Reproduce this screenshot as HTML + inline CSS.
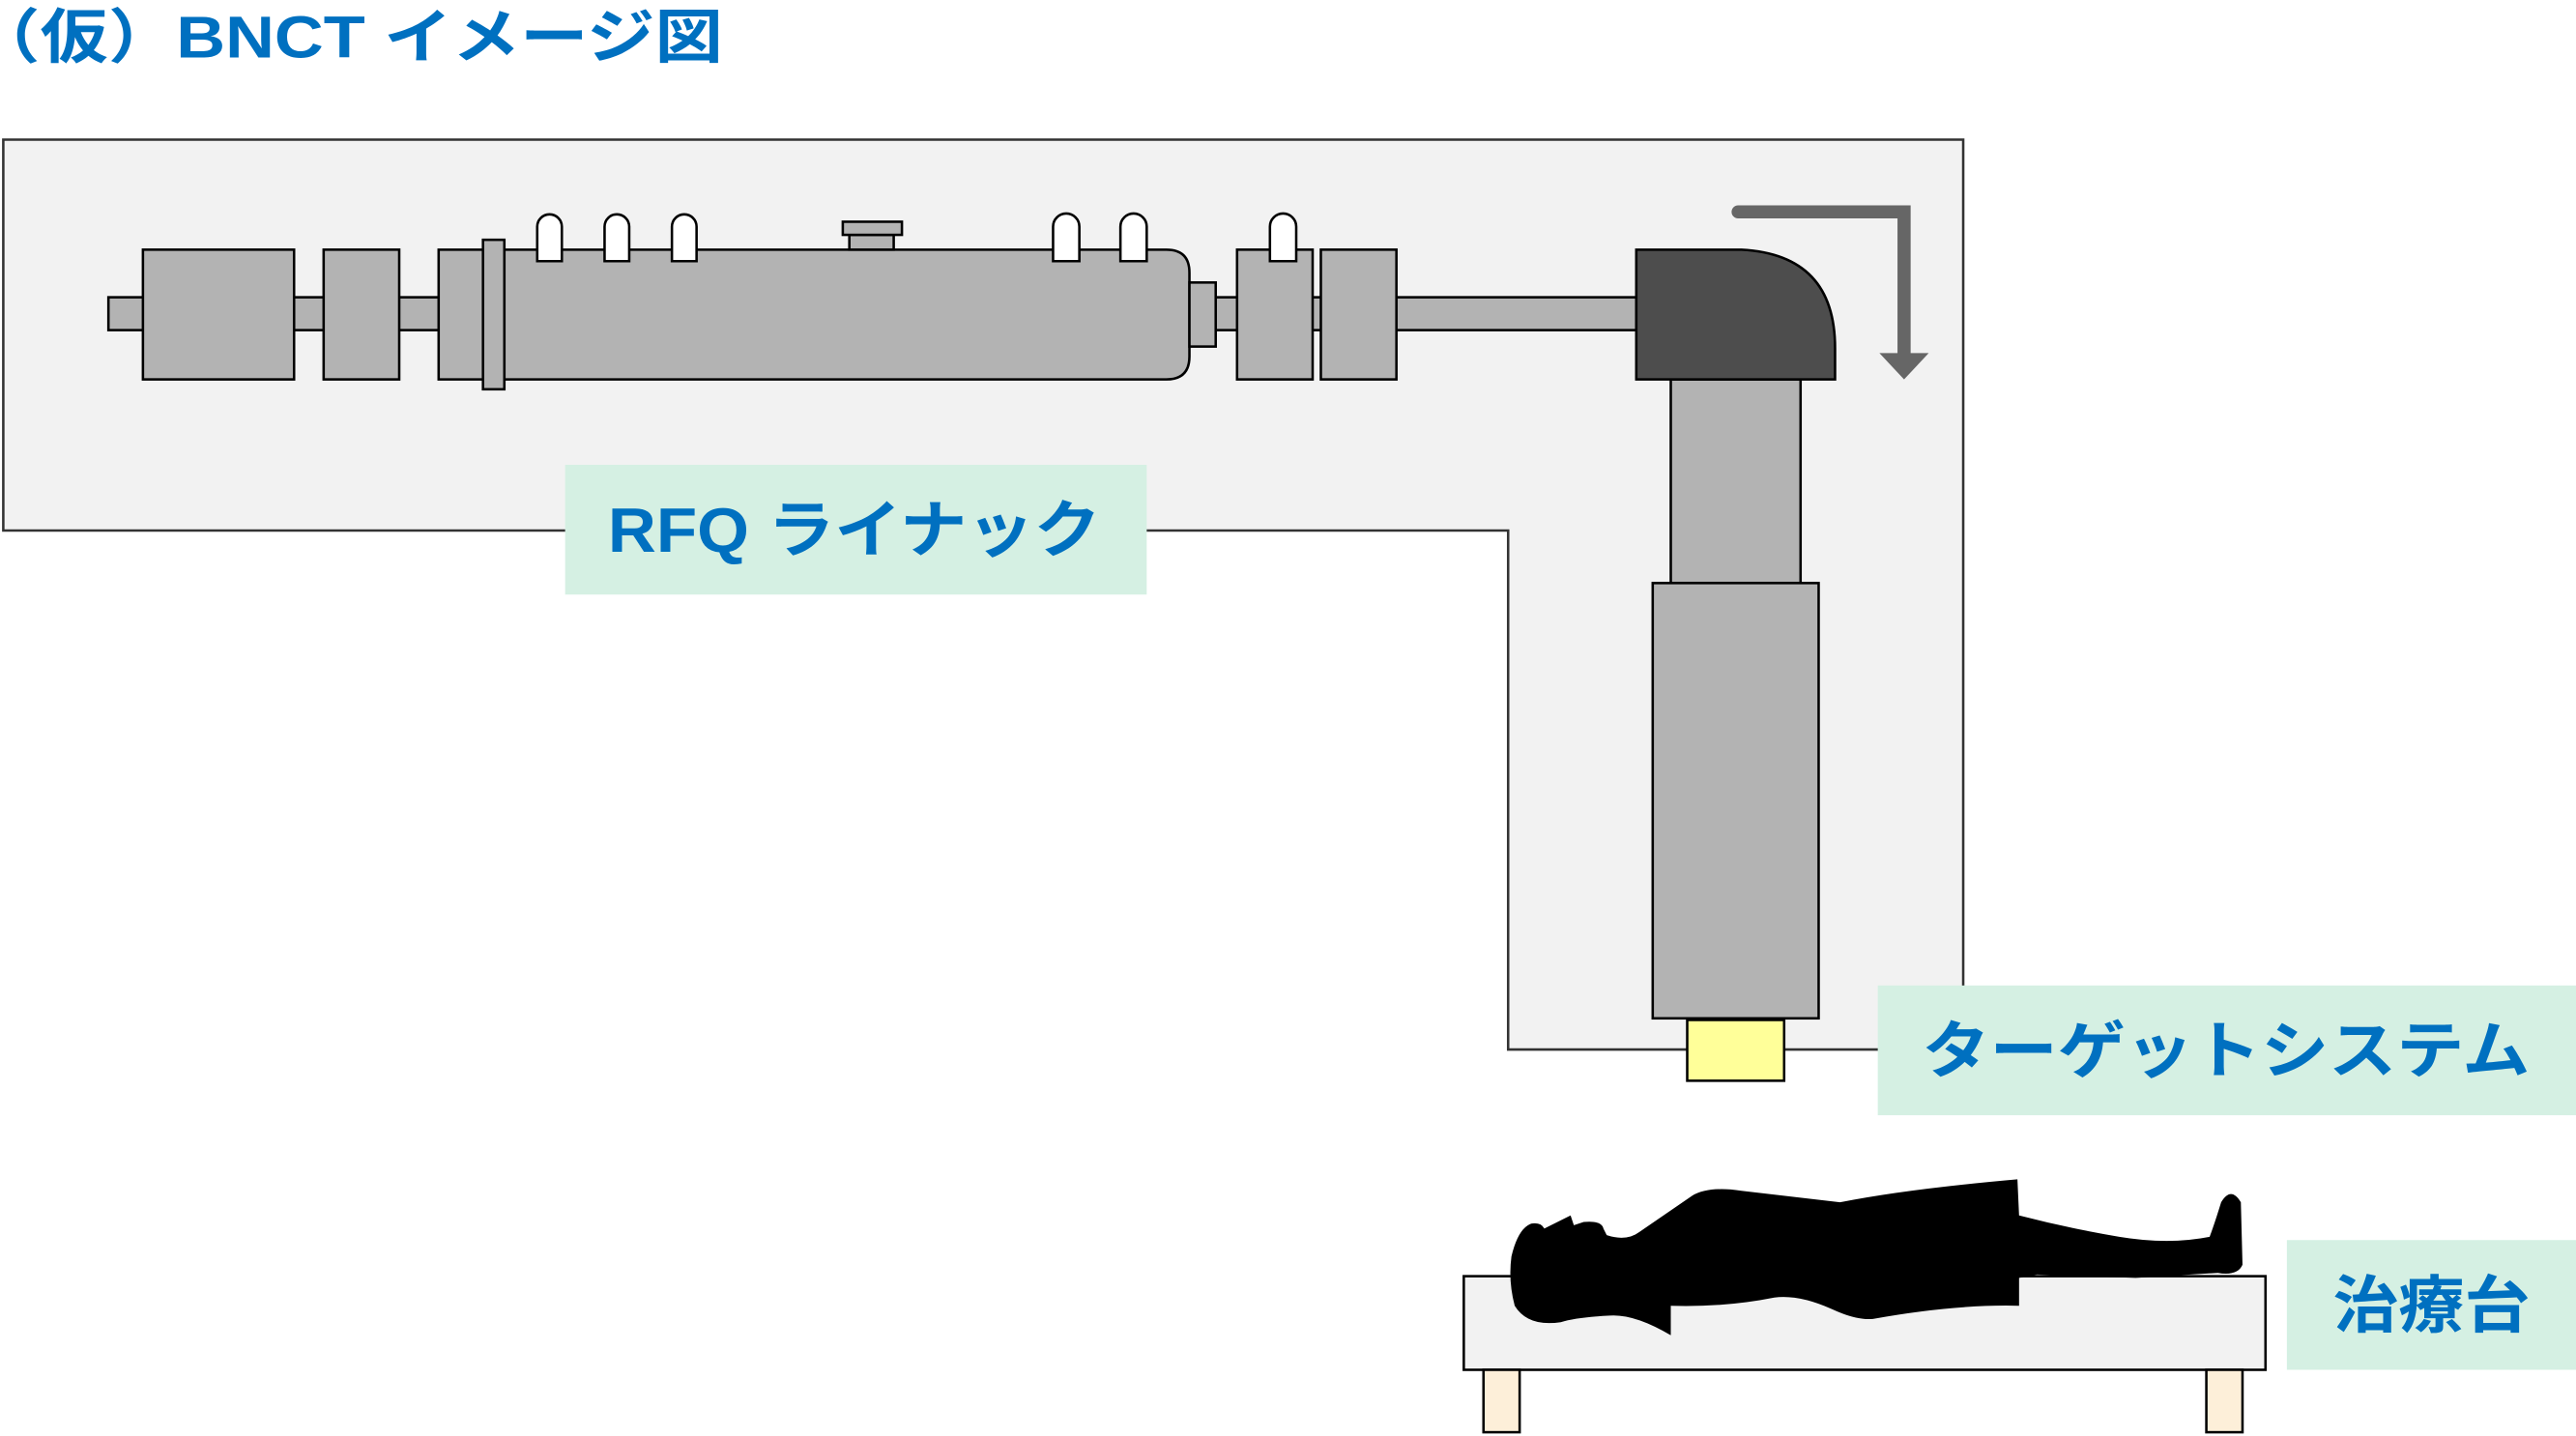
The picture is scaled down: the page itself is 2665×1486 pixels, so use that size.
<!DOCTYPE html>
<html><head><meta charset="utf-8"><style>
html,body{margin:0;padding:0;background:#fff;}
svg{display:block;}
text{font-family:"Liberation Sans","Noto Sans CJK JP",sans-serif;font-weight:bold;fill:#0070c0;}
</style></head><body>
<svg width="2665" height="1486" viewBox="0 0 1568 874.3" preserveAspectRatio="none" xmlns="http://www.w3.org/2000/svg">
<text x="-17" y="35" font-size="36" textLength="457" lengthAdjust="spacingAndGlyphs">（仮）BNCT イメージ図</text>
<polygon points="2,85 1195,85 1195,639 918,639 918,323 2,323" fill="#f2f2f2" stroke="#333" stroke-width="1.5"/>
<g stroke="#000" stroke-width="1.5" fill="#b3b3b3">
<rect x="66" y="181" width="930" height="20"/>
<rect x="87" y="152" width="92" height="79"/>
<rect x="197" y="152" width="46" height="79"/>
<path d="M267,152 H710 Q724,152 724,166 V217 Q724,231 710,231 H267 Z"/>
<rect x="724" y="172" width="16" height="39"/>
<rect x="294" y="146" width="13" height="91"/>
<rect x="517" y="143" width="27" height="9"/>
<rect x="513" y="135" width="36" height="8"/>
<rect x="753" y="152" width="46" height="79"/>
<rect x="804" y="152" width="46" height="79"/>
<rect x="1017" y="231" width="79" height="124"/>
<rect x="1006" y="355" width="101" height="265"/>
</g>
<g stroke="#000" stroke-width="1.5" fill="#fff">
<path d="M327,159 V138 A7.5,7.5 0 0 1 342,138 V159 Z"/>
<path d="M368,159 V138 A7.5,7.5 0 0 1 383,138 V159 Z"/>
<path d="M409,159 V138 A7.5,7.5 0 0 1 424,138 V159 Z"/>
<path d="M641,159 V138 A8,8 0 0 1 657,138 V159 Z"/>
<path d="M682,159 V138 A8,8 0 0 1 698,138 V159 Z"/>
<path d="M773,159 V138 A8,8 0 0 1 789,138 V159 Z"/>
</g>
<path d="M996,152 H1060 Q1117,155 1117,212 V231 H996 Z" fill="#4d4d4d" stroke="#000" stroke-width="1.5"/>
<polyline points="1058,129 1159,129 1159,217" fill="none" stroke="#666" stroke-width="8" stroke-linecap="round"/>
<polygon points="1144,215 1174,215 1159,231" fill="#666"/>
<rect x="1027" y="621" width="59" height="37" fill="#ffff99" stroke="#000" stroke-width="1.5"/>
<rect x="344" y="283" width="354" height="79" fill="#d5f0e3"/>
<text x="370" y="336" font-size="38" textLength="300" lengthAdjust="spacingAndGlyphs">RFQ ライナック</text>
<rect x="1143" y="600" width="425" height="79" fill="#d5f0e3"/>
<text x="1170" y="653" font-size="38" textLength="370" lengthAdjust="spacingAndGlyphs">ターゲットシステム</text>
<rect x="1392" y="755" width="176" height="79" fill="#d5f0e3"/>
<text x="1420" y="808" font-size="38" textLength="120" lengthAdjust="spacingAndGlyphs">治療台</text>
<rect x="891" y="777" width="488" height="57" fill="#f2f2f2" stroke="#000" stroke-width="1.5"/>
<rect x="903" y="834" width="22" height="38" fill="#fdefd9" stroke="#000" stroke-width="1.5"/>
<rect x="1343" y="834" width="22" height="38" fill="#fdefd9" stroke="#000" stroke-width="1.5"/>
<path d="M978,752 Q990,756 998,750 L1030,728 Q1040,722 1060,725 L1120,732 Q1160,724 1228,718 L1229,740 Q1260,748 1290,753 Q1320,758 1345,753 Q1348,745 1352,732 Q1358,722 1364,732 L1365,770 Q1362,777 1350,775 L1300,778 Q1260,777 1240,776 L1229,778 L1229,795 Q1190,794 1140,803 Q1130,804 1115,797 Q1095,788 1080,790 Q1050,796 1017,795 L1017,813 Q995,800 980,801 Q960,802 950,805 Q930,808 922,795 Q918,780 920,765 Q924,748 932,745 Q938,744 940,748 L956,740 L958,746 L964,744 Q975,743 976,748 Z" fill="#000"/>
</svg>
</body></html>
